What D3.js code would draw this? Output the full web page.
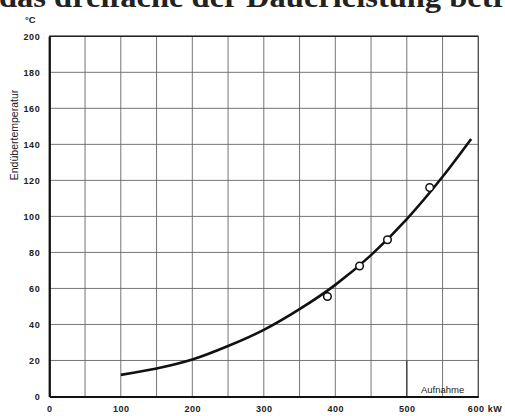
<!DOCTYPE html>
<html><head><meta charset="utf-8">
<script src="https://cdn.jsdelivr.net/npm/d3@7"></script>
<style>
html,body{margin:0;padding:0;background:#fff;}
svg{display:block;}
</style></head>
<body>
<script>
// Data
const curveKW   = [100, 150, 200, 250, 300, 350, 400, 450, 500, 550, 590];
const curveTemp = [12, 15.5, 20.5, 28, 37, 48.5, 62, 78.5, 98.5, 122, 143];
const pointKW   = [389, 434, 473, 532];
const pointTemp = [55.5, 72.5, 87, 116];
const xTicks = [0, 100, 200, 300, 400, 500, 600];
const xTickLabels = ["0", "100", "200", "300", "400", "500", "600 kW"];
const yTicks = [0, 20, 40, 60, 80, 100, 120, 140, 160, 180, 200];
const xGrid = d3.range(0, 601, 50);

const W = 505, H = 416;
const svg = d3.select("body").append("svg").attr("width", W).attr("height", H);

const x = d3.scaleLinear().domain([0, 600]).range([49.3, 478.3]);
const y = d3.scaleLinear().domain([0, 200]).range([396.5, 36.3]);

// cut-off body text at the top
svg.append("text").attr("x", -1).attr("y", 7)
  .attr("font-family", "Liberation Serif, serif").attr("font-size", 29)
  .attr("font-weight", "bold").attr("fill", "#222")
  .attr("textLength", 508).attr("lengthAdjust", "spacingAndGlyphs")
  .text("das dreifache der Dauerleistung betr");

// grid
const g = svg.append("g");
g.selectAll(".vg").data(xGrid).join("line")
  .attr("x1", d => x(d)).attr("x2", d => x(d))
  .attr("y1", y(0)).attr("y2", y(200))
  .attr("stroke", "#666").attr("stroke-width", 0.9);
g.selectAll(".hg").data(yTicks).join("line")
  .attr("x1", x(0)).attr("x2", x(600))
  .attr("y1", d => y(d)).attr("y2", d => y(d))
  .attr("stroke", "#666").attr("stroke-width", 0.9);

// frame
svg.append("line").attr("x1", x(0)).attr("x2", x(600)).attr("y1", y(200)).attr("y2", y(200))
  .attr("stroke", "#222").attr("stroke-width", 1.4);
svg.append("line").attr("x1", x(600)).attr("x2", x(600)).attr("y1", y(0)).attr("y2", y(200))
  .attr("stroke", "#444").attr("stroke-width", 1.1);
svg.append("line").attr("x1", x(500)).attr("x2", x(500)).attr("y1", y(0)).attr("y2", y(20))
  .attr("stroke", "#333").attr("stroke-width", 1.2);

// axes
const xAxis = d3.axisBottom(x).tickValues(xTicks).tickSize(0).tickPadding(9)
  .tickFormat((d, i) => xTickLabels[i]);
const gx = svg.append("g").attr("transform", `translate(0,${y(0)})`).call(xAxis);
gx.select(".domain").attr("stroke", "#111").attr("stroke-width", 2.2);
gx.selectAll("text").attr("font-family", "Liberation Sans, Arial, sans-serif")
  .attr("font-size", 9).attr("font-weight", "bold").attr("fill", "#222").attr("letter-spacing", 0.6);
gx.selectAll(".tick").filter(d => d === 600).select("text")
  .attr("text-anchor", "start").attr("dx", -11);

const yAxis = d3.axisLeft(y).tickValues(yTicks).tickSize(0).tickPadding(9);
const gy = svg.append("g").attr("transform", `translate(${x(0)},0)`).call(yAxis);
gy.select(".domain").attr("stroke", "#111").attr("stroke-width", 2.2);
gy.selectAll("text").attr("font-family", "Liberation Sans, Arial, sans-serif")
  .attr("font-size", 9).attr("font-weight", "bold").attr("fill", "#222").attr("letter-spacing", 0.6);

// unit and axis title
svg.append("text").attr("x", 25).attr("y", 23)
  .attr("font-family", "Liberation Sans, Arial, sans-serif").attr("font-size", 9.5)
  .attr("font-weight", "bold").attr("fill", "#222").text("°C");
svg.append("text").attr("transform", "translate(18,135) rotate(-90)")
  .attr("text-anchor", "middle")
  .attr("font-family", "Liberation Sans, Arial, sans-serif").attr("font-size", 10.5)
  .attr("fill", "#222").text("Endübertemperatur");

svg.append("text").attr("x", (x(500) + x(600)) / 2).attr("y", y(0) - 4)
  .attr("text-anchor", "middle")
  .attr("font-family", "Liberation Sans, Arial, sans-serif").attr("font-size", 9.5)
  .attr("fill", "#222").text("Aufnahme");

// curve
const line = d3.line().x(d => x(d[0])).y(d => y(d[1])).curve(d3.curveMonotoneX);
svg.append("path").datum(curveKW.map((k, i) => [k, curveTemp[i]]))
  .attr("d", line).attr("fill", "none").attr("stroke", "#111").attr("stroke-width", 2.6);

// measured points
svg.selectAll(".pt").data(pointKW.map((k, i) => [k, pointTemp[i]])).join("circle")
  .attr("cx", d => x(d[0])).attr("cy", d => y(d[1])).attr("r", 3.8)
  .attr("fill", "#fff").attr("stroke", "#111").attr("stroke-width", 1.5);
</script>
</body></html>
